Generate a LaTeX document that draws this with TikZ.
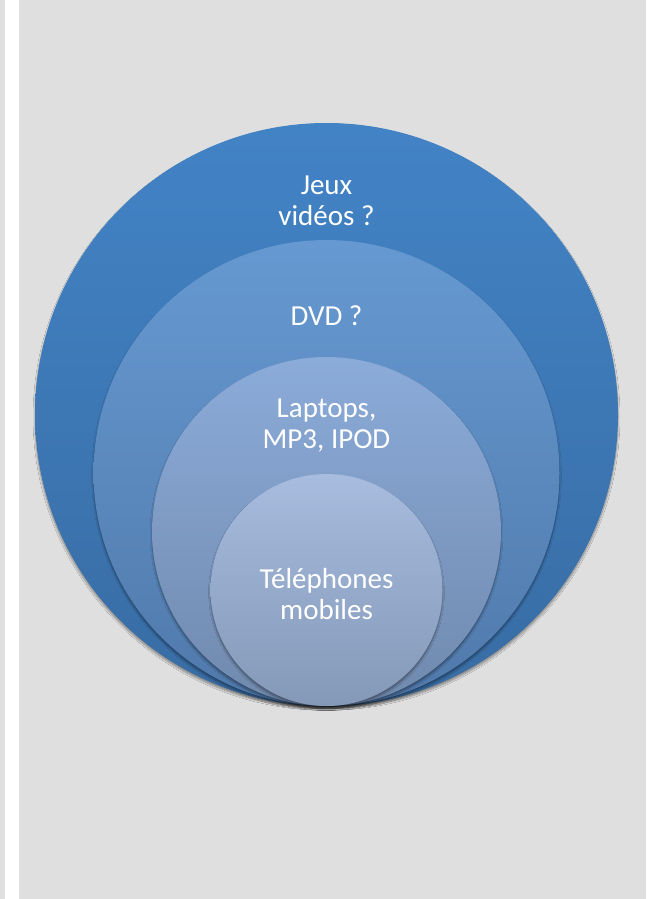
\documentclass[tikz,border=0pt]{standalone}
\usepackage{xcolor}
\usepackage{fontspec}
\setmainfont{Carlito}
\usepackage{tikz}
\usetikzlibrary{positioning,shadows,shadows.blur}
\definecolor{fond}{HTML}{DFDFDF}
\definecolor{bleuA}{HTML}{4283C6}
\definecolor{bleuAbas}{HTML}{386CA3}
\definecolor{bleuB}{HTML}{6699D1}
\definecolor{bleuBbas}{HTML}{5079AB}
\definecolor{bleuC}{HTML}{8BABD9}
\definecolor{bleuCbas}{HTML}{7089AD}
\definecolor{bleuD}{HTML}{A7BCDE}
\definecolor{bleuDbas}{HTML}{8498B8}
\tikzset{disque/.style={circle,inner sep=0pt,draw=none,
    blur shadow={shadow xshift=0pt,shadow yshift=-2.5pt,shadow blur steps=8,shadow opacity=40}},
  etiquette/.style={text=white,align=center,font=\fontsize{29}{31}\selectfont}}

\begin{document}
\begin{tikzpicture}[x=1pt,y=-1pt]
\fill[fond] (0,0) rectangle (646,899);
\fill[white] (5,0) rectangle (19,899);
\useasboundingbox (0,0) rectangle (646,899);
% cercles, du plus grand au plus petit
\node[disque,minimum size=583pt,top color=bleuA,bottom color=bleuAbas] (jeux) at (326.5,414.5) {};
\node[disque,minimum size=466pt,top color=bleuB,bottom color=bleuBbas] (dvd) at (326.5,473) {};
\node[disque,minimum size=349pt,top color=bleuC,bottom color=bleuCbas] (laptops) at (326.5,531.5) {};
\node[disque,minimum size=232pt,top color=bleuD,bottom color=bleuDbas] (tel) at (326.5,590) {};
% textes
\node[etiquette] (tjeux) at (326.5,201) {Jeux\\vidéos ?};
\node[etiquette] (tdvd) at (326.5,316) {DVD ?};
\node[etiquette] (tlaptops) at (326.5,426) {Laptops,\\MP3, IPOD};
\node[etiquette] (ttel) at (326.5,594) {Téléphones\\mobiles};
\end{tikzpicture}
\end{document}
